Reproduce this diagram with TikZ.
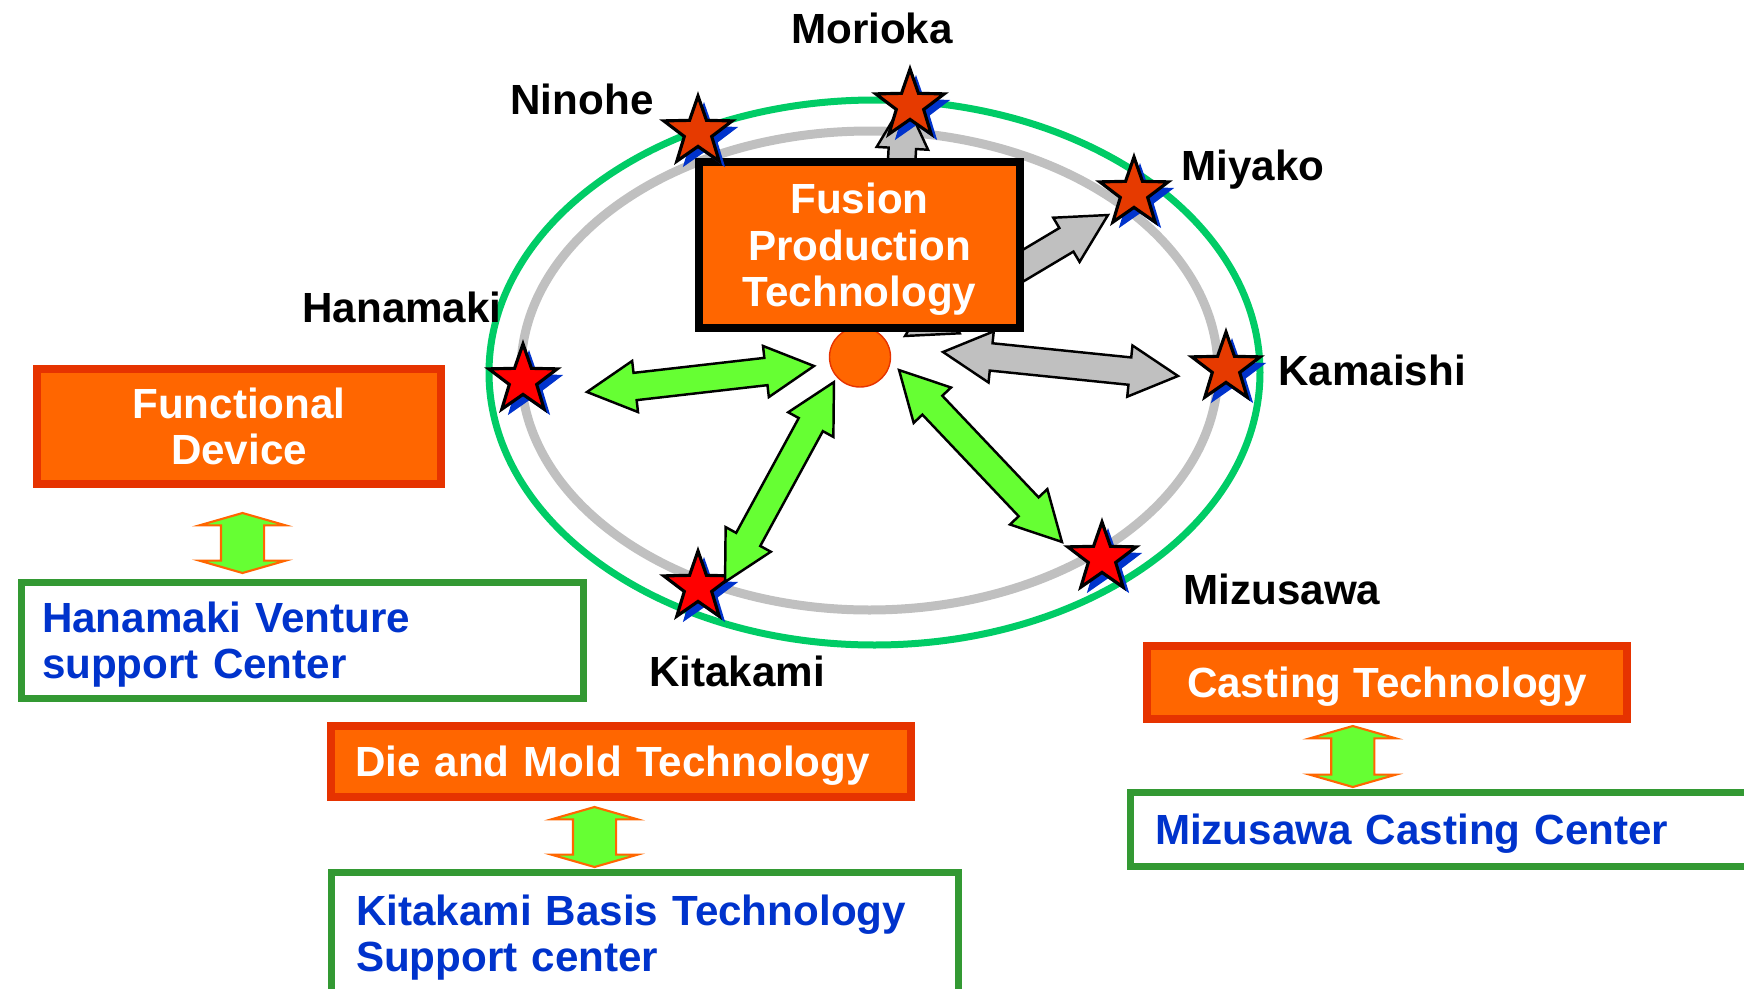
\documentclass[tikz,border=0pt]{standalone}
\usepackage{fontspec}
\setmainfont{Liberation Sans}
\usetikzlibrary{shapes.geometric,shapes.arrows,shadows,calc}

\definecolor{org}{HTML}{FF6600}
\definecolor{orb}{HTML}{E63300}
\definecolor{grn}{HTML}{00CC66}
\definecolor{lgr}{HTML}{C0C0C0}
\definecolor{lim}{HTML}{66FF33}
\definecolor{bgr}{HTML}{339933}
\definecolor{blu}{HTML}{0033CC}
\definecolor{sor}{HTML}{E63A00}

\tikzstyle{every node}=[font=\fontsize{12}{13.2}\selectfont\bfseries, inner sep=0pt, text depth=0pt]
\tikzstyle{ob}=[rectangle, fill=org, draw=orb, line width=0.8mm, text=white, align=center]
\tikzstyle{wb}=[rectangle, fill=white, draw=bgr, line width=0.7mm, text=blu, align=left]
\tikzstyle{lb}=[text=black]
\tikzstyle{st}=[star, star points=5, star point ratio=2.5, minimum size=7.2mm, draw=black, line width=0.9pt, drop shadow={fill=blu, opacity=1, shadow xshift=0.6mm, shadow yshift=-0.6mm}]
\tikzstyle{os}=[st, fill=sor]
\tikzstyle{rs}=[st, fill=red]
\tikzstyle{ba}=[double arrow, draw=black, line width=0.7pt, inner ysep=1.25mm, inner xsep=0pt, minimum width=0pt, double arrow head extend=1.2mm, double arrow tip angle=56]
\tikzstyle{ga}=[ba, fill=lim]
\tikzstyle{gy}=[ba, fill=lgr]
\tikzstyle{va}=[double arrow, draw=org, fill=lim, line width=0.6pt, inner ysep=2.05mm, inner xsep=0pt, minimum width=0pt, double arrow head extend=2.15mm, double arrow tip angle=148]

\newcommand\blk[3]{\path let \p1=($(#3)-(#2)$) in node[#1, rotate={atan2(\y1,\x1)}, minimum height={veclen(\x1,\y1)}] at ($(#2)!.5!(#3)$) {};}

\begin{document}
\begin{tikzpicture}[x=0.1mm, y=-0.1mm]
\useasboundingbox (0,0) rectangle (1744,989);
\clip (0,0) rectangle (1744,989);

\draw[grn, line width=0.7mm] (874.5,372.5) ellipse [x radius=38.55mm, y radius=27.25mm];
\draw[lgr, line width=0.9mm] (869.5,370.5) ellipse [x radius=34.85mm, y radius=23.95mm];

\coordinate (mo1) at (893,320);
\coordinate (mo2) at (905,100);
\coordinate (mi1) at (905,336);
\coordinate (mi2) at (1108,215);
\blk{gy}{mo1}{mo2}
\blk{gy}{mi1}{mi2}

\node[ellipse, fill=org, draw=orb, line width=0.4pt, minimum width=6.1mm, minimum height=6mm] (ctr) at (860,357) {};
\node[ob, draw=black, minimum width=32.1mm, minimum height=16.6mm] (fpt) at (859.5,245) {Fusion\\Production\\Technology};

\node[os] (sNin) at (698,132) {};
\node[os] (sMor) at (910,105) {};
\node[os] (sMiy) at (1134,193) {};
\node[os] (sKam) at (1226,368) {};
\node[rs] (sHan) at (523,380) {};
\node[rs] (sMiz) at (1102,558) {};
\node[rs] (sKit) at (698,587) {};

\node[lb] (lMor) at (872,28) {Morioka};
\node[lb] (lNin) at (582,99) {Ninohe};
\node[lb] (lMiy) at (1253,165) {Miyako};
\node[lb] (lHan) at (402,307) {Hanamaki};
\node[lb] (lKam) at (1372,370) {Kamaishi};
\node[lb] (lMiz) at (1282,589) {Mizusawa};
\node[lb] (lKit) at (737,671) {Kitakami};

\coordinate (ha1) at (587,392);
\coordinate (ha2) at (814,366);
\coordinate (ki1) at (834,382);
\coordinate (ki2) at (725,582);
\coordinate (mz1) at (899,370);
\coordinate (mz2) at (1062,542);
\coordinate (ka1) at (943,352);
\coordinate (ka2) at (1178,376);
\blk{ga}{ha1}{ha2}
\blk{ga}{ki1}{ki2}
\blk{ga}{mz1}{mz2}
\blk{gy}{ka1}{ka2}

\node[ob, minimum width=40.4mm, minimum height=11.5mm] (fd) at (239,426.5) {Functional\\Device};
\node[wb, text width=52.1mm, text depth=13.2pt, inner xsep=2.05mm, minimum height=11.6mm] (hv) at (302.5,640.5) {Hanamaki Venture\\support Center};
\node[ob, align=left, text width=53.2mm, inner xsep=2.4mm, minimum height=7.1mm] (dm) at (621,761.5) {Die and Mold Technology};
\node[wb, text width=57.8mm, text depth=13.2pt, inner xsep=2.45mm, minimum height=12.2mm] (kb) at (645,933.5) {Kitakami Basis Technology\\Support center};
\node[ob, minimum width=48mm, minimum height=7.3mm] (ct) at (1387,682.5) {Casting Technology};
\node[wb, text width=62mm, inner xsep=2.5mm, minimum height=7.4mm] (mc) at (1465,829.5) {Mizusawa Casting Center};

\coordinate (v1a) at (242.5,513);
\coordinate (v1b) at (242.5,573);
\coordinate (v2a) at (594.5,807);
\coordinate (v2b) at (594.5,867);
\coordinate (v3a) at (1352.8,726);
\coordinate (v3b) at (1352.8,787);
\blk{va}{v1a}{v1b}
\blk{va}{v2a}{v2b}
\blk{va}{v3a}{v3b}
\end{tikzpicture}
\end{document}
